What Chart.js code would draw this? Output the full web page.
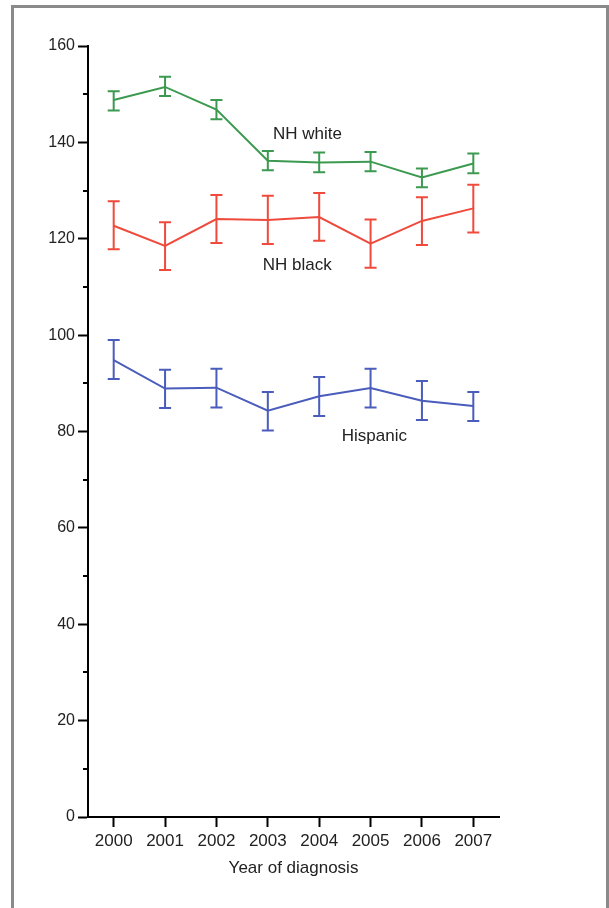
<!DOCTYPE html>
<html>
<head>
<meta charset="utf-8">
<script src="https://cdn.jsdelivr.net/npm/chart.js@4.4.1/dist/chart.umd.min.js"></script>
<style>
  html, body { margin: 0; padding: 0; background: #ffffff; }
  #wrap { position: relative; width: 609px; height: 908px; overflow: hidden; }
  #frame { position: absolute; left: 11px; top: 5px; width: 598px; height: 920px;
           border: 3px solid #8a8a8a; box-sizing: border-box; }
  #c { position: absolute; left: 0; top: 0; }
</style>
</head>
<body>
<div id="wrap">
  <div id="frame"></div>
  <canvas id="c" width="609" height="908"></canvas>
</div>
<script>
// ---- data ----
const years = ['2000', '2001', '2002', '2003', '2004', '2005', '2006', '2007'];

const whiteVals = [148.8, 151.5, 146.8, 136.2, 135.8, 136.0, 132.7, 135.6];
const whiteLow  = [146.6, 149.6, 144.8, 134.2, 133.8, 134.0, 130.7, 133.6];
const whiteHigh = [150.6, 153.6, 148.8, 138.2, 137.9, 138.0, 134.6, 137.7];

const blackVals = [122.7, 118.5, 124.1, 123.9, 124.5, 119.0, 123.7, 126.3];
const blackLow  = [117.8, 113.5, 119.1, 118.9, 119.6, 114.0, 118.7, 121.3];
const blackHigh = [127.8, 123.4, 129.1, 128.9, 129.5, 124.0, 128.6, 131.2];

const hispVals = [94.8, 88.9, 89.1, 84.3, 87.3, 89.0, 86.4, 85.3];
const hispLow  = [90.9, 84.9, 85.0, 80.2, 83.2, 85.0, 82.4, 82.2];
const hispHigh = [99.0, 92.8, 93.0, 88.2, 91.3, 93.0, 90.5, 88.2];

const seriesNames = ['NH white', 'NH black', 'Hispanic'];
const yTicks = [0, 20, 40, 60, 80, 100, 120, 140, 160];
const xTitle = 'Year of diagnosis';

const GREEN = '#3c9a50';
const RED = '#ef4a3c';
const BLUE = '#4a5cbc';
const TEXT = '#222222';
const FONT = '"Liberation Sans", Arial, Helvetica, sans-serif';

// series label anchors (category index, value) — left/baseline of text
const labelAnchors = [
  { text: seriesNames[0], x: 3.10, y: 140.8 },
  { text: seriesNames[1], x: 2.90, y: 113.6 },
  { text: seriesNames[2], x: 4.44, y: 78.0 }
];

const errorBarPlugin = {
  id: 'errorBars',
  afterDatasetsDraw(chart) {
    const ctx = chart.ctx;
    const xs = chart.scales.x, ys = chart.scales.y;
    chart.data.datasets.forEach((ds, di) => {
      const meta = chart.getDatasetMeta(di);
      ctx.save();
      ctx.strokeStyle = ds.borderColor;
      ctx.lineWidth = 2;
      meta.data.forEach((pt, i) => {
        const x = pt.x;
        const yl = ys.getPixelForValue(ds.errLow[i]);
        const yh = ys.getPixelForValue(ds.errHigh[i]);
        const cap = 6;
        ctx.beginPath();
        ctx.moveTo(x, yl); ctx.lineTo(x, yh);
        ctx.moveTo(x - cap, yl); ctx.lineTo(x + cap, yl);
        ctx.moveTo(x - cap, yh); ctx.lineTo(x + cap, yh);
        ctx.stroke();
      });
      ctx.restore();
    });
    // series labels
    ctx.save();
    ctx.fillStyle = TEXT;
    ctx.font = '17px ' + FONT;
    ctx.textAlign = 'left';
    ctx.textBaseline = 'alphabetic';
    labelAnchors.forEach(a => {
      const i0 = Math.floor(a.x), f = a.x - i0;
      const p0 = xs.getPixelForValue(i0), p1 = xs.getPixelForValue(i0 + 1);
      const px = p0 + (p1 - p0) * f;
      ctx.fillText(a.text, px, ys.getPixelForValue(a.y));
    });
    ctx.restore();
  },
  afterDraw(chart) {
    // minor y ticks at odd tens
    const ctx = chart.ctx;
    const ys = chart.scales.y;
    const left = chart.chartArea.left;
    ctx.save();
    ctx.strokeStyle = '#000';
    ctx.lineWidth = 2;
    for (let v = 10; v < 160; v += 20) {
      const y = Math.round(ys.getPixelForValue(v));
      ctx.beginPath();
      ctx.moveTo(left - 5, y); ctx.lineTo(left, y);
      ctx.stroke();
    }
    ctx.restore();
  }
};

new Chart(document.getElementById('c'), {
  type: 'line',
  data: {
    labels: years,
    datasets: [
      { label: seriesNames[0], data: whiteVals, errLow: whiteLow, errHigh: whiteHigh, borderColor: GREEN },
      { label: seriesNames[1], data: blackVals, errLow: blackLow, errHigh: blackHigh, borderColor: RED },
      { label: seriesNames[2], data: hispVals, errLow: hispLow, errHigh: hispHigh, borderColor: BLUE }
    ].map(d => Object.assign(d, { borderWidth: 2, pointRadius: 0, tension: 0, fill: false }))
  },
  options: {
    responsive: false,
    animation: false,
    events: [],
    layout: { padding: { left: 0, top: 46, right: 110, bottom: 29 } },
    plugins: { legend: { display: false }, tooltip: { enabled: false } },
    scales: {
      x: {
        type: 'category',
        offset: true,
        afterFit(s) { s.height = 62; },
        border: { display: true, color: '#000', width: 2 },
        grid: { display: true, drawOnChartArea: false, tickLength: 10, tickColor: '#000', tickWidth: 2, offset: false },
        ticks: { color: TEXT, font: { family: FONT, size: 17 }, padding: 4, maxRotation: 0, autoSkip: false },
        title: { display: true, text: xTitle, color: TEXT, font: { family: FONT, size: 17 }, padding: { top: 4, bottom: 0 } }
      },
      y: {
        type: 'linear',
        min: 0, max: 160,
        afterFit(s) { s.width = 88; },
        afterBuildTicks(s) { s.ticks = yTicks.map(v => ({ value: v })); },
        border: { display: true, color: '#000', width: 2 },
        grid: { display: true, drawOnChartArea: false, tickLength: 10, tickColor: '#000', tickWidth: 2 },
        ticks: { color: TEXT, font: { family: FONT, size: 16 }, padding: 3 }
      }
    }
  },
  plugins: [errorBarPlugin]
});
</script>
</body>
</html>
